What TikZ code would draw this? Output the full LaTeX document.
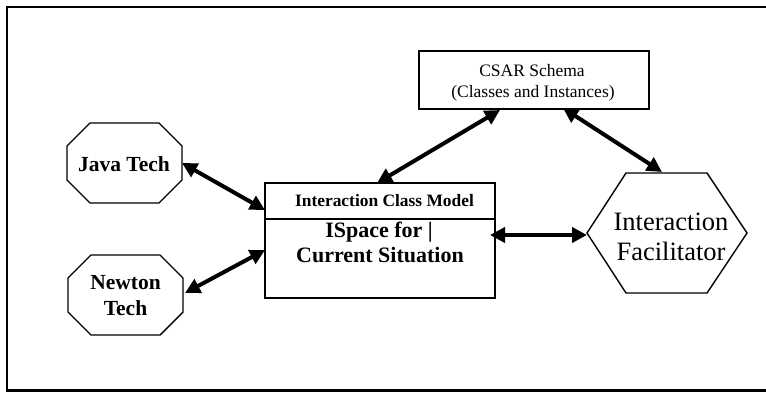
\documentclass[tikz,border=0pt]{standalone}
\usepackage{fontspec}
\setmainfont{Liberation Serif}
\usetikzlibrary{arrows.meta,calc}
\tikzset{
  every node/.style={inner sep=0pt, outer sep=0pt},
  holder/.style={rectangle, minimum width=#1},
  box/.style={draw, rectangle, line width=1.7pt},
  outline/.style={line width=1.4pt, line join=miter},
  frameline/.style={line width=2.2pt},
  link/.style={line width=4pt,
    {Triangle[length=15pt,width=15pt]}-{Triangle[length=15pt,width=15pt]}},
  techlbl/.style={anchor=base, font=\fontsize{21.5}{26}\selectfont\bfseries},
  titlelbl/.style={anchor=base, font=\fontsize{17.4}{21}\selectfont\bfseries},
  bodylbl/.style={anchor=base, font=\fontsize{22}{26}\selectfont\bfseries},
  schemalbl/.style={anchor=base, font=\fontsize{17.5}{21}\selectfont},
  faclbl/.style={anchor=base, font=\fontsize{26.5}{31}\selectfont},
}
\begin{document}
\begin{tikzpicture}[x=1pt, y=-1pt]
  \useasboundingbox (0,0) rectangle (766,392);

  % outer frame (open on the right)
  \draw[frameline] (768,6.7) -- (7,6.7) -- (7,390.5) -- (768,390.5);

  % shape holders
  \node[holder=115pt, minimum height=80pt] (java) at (124.5,163) {};
  \node[holder=115pt, minimum height=80pt] (newton) at (125.5,295) {};
  \node[holder=160pt, minimum height=120pt] (fac) at (667,233) {};
  \node[box, minimum width=230pt, minimum height=58pt] (csar) at (534,80) {};
  \node[box, minimum width=230pt, minimum height=115pt] (icm) at (380,240.5) {};

  % octagons
  \foreach \n in {java,newton}{
    \draw[outline]
      ($(\n.north west)+(23,0)$) -- ($(\n.north east)+(-23,0)$)
      -- ($(\n.north east)+(0,23)$) -- ($(\n.south east)+(0,-23)$)
      -- ($(\n.south east)+(-23,0)$) -- ($(\n.south west)+(23,0)$)
      -- ($(\n.south west)+(0,-23)$) -- ($(\n.north west)+(0,23)$) -- cycle;
  }

  % hexagon
  \draw[outline]
    (fac.west) -- ($(fac.north west)+(39,0)$) -- ($(fac.north east)+(-40,0)$)
    -- (fac.east) -- ($(fac.south east)+(-40,0)$) -- ($(fac.south west)+(39,0)$)
    -- cycle;

  % class model divider
  \draw[line width=1.7pt] ($(icm.north west)+(0,36)$) -- ($(icm.north east)+(0,36)$);

  % labels
  \node[techlbl] (javatxt) at (124,171) {Java Tech};
  \node[techlbl] (newtontxt1) at (125.5,289) {Newton};
  \node[techlbl] (newtontxt2) at (125.5,315) {Tech};
  \node[schemalbl] (csartxt1) at (532,76) {CSAR Schema};
  \node[schemalbl] (csartxt2) at (533,97) {(Classes and Instances)};
  \node[titlelbl] (icmtitle) at (384.5,206) {Interaction Class Model};
  \node[bodylbl] (icmbody1) at (379,237) {ISpace for |};
  \node[bodylbl] (icmbody2) at (380,262) {Current Situation};
  \node[faclbl] (factxt1) at (671,230) {Interaction};
  \node[faclbl] (factxt2) at (671,260) {Facilitator};

  % connectors
  \draw[link] (java.east) -- ($(icm.north west)+(0,27)$);
  \draw[link] ($(newton.east)+(2,-2)$) -- ($(icm.north west)+(0,67)$);
  \draw[link] ($(icm.north)+(-3,0)$) -- ($(csar.south)+(-34,1)$);
  \draw[link] ($(csar.south)+(29,-1)$) -- ($(fac.north)+(-5,-1)$);
  \draw[link] ($(icm.north east)+(-5,52)$) -- ($(fac.west)+(0,2)$);
\end{tikzpicture}
\end{document}
